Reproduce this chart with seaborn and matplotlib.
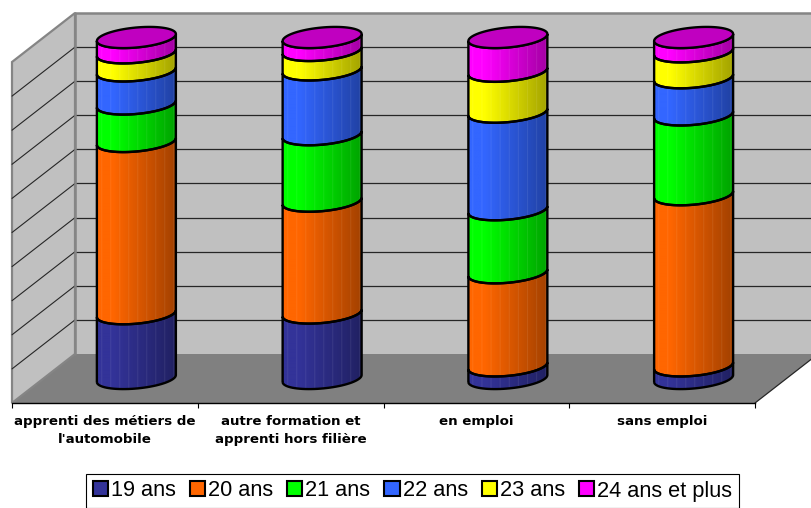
import numpy as np
import matplotlib
matplotlib.use("Agg")
import matplotlib.pyplot as plt
import seaborn as sns
from matplotlib.patches import Patch, PathPatch, Polygon
from matplotlib.path import Path
from matplotlib.colors import to_rgb

# Data (share in %)
categories = ["apprenti des métiers de\nl'automobile",
              "autre formation et\napprenti hors filière",
              "en emploi",
              "sans emploi"]
age_19 = [19.0, 19.2, 3.7, 3.7]
age_20 = [50.5, 32.8, 27.3, 50.2]
age_21 = [11.0, 19.5, 18.5, 23.4]
age_22 = [9.7, 19.0, 28.6, 10.9]
age_23 = [5.3, 5.7, 12.0, 7.6]
age_24 = [4.5, 3.8, 9.9, 4.2]

series_names = ["19 ans", "20 ans", "21 ans", "22 ans", "23 ans", "24 ans et plus"]
series_values = [age_19, age_20, age_21, age_22, age_23, age_24]
series_colors = ["#333399", "#FF6600", "#00FF00", "#3366FF", "#FFFF00", "#FF00FF"]

# Fake 3D set-up, all in pixels of the 811x508 picture
W, H = 811, 508
PX_X = 743 / 4    # pixels per category
PX_Y = 341 / 100  # pixels per percent
DEPTH_X = 63 / PX_X
DEPTH_Y = 49 / PX_Y
ELL_B = 10 / PX_Y
ELL_TILT = 3.5 / PX_Y

sns.set_theme(style="white")
plt.rcParams["font.family"] = ["DejaVu Sans"]

fig = plt.figure(figsize=(W / 100, H / 100), dpi=100)
ax = fig.add_axes([12 / W, (H - 403) / H, 743 / W, 341 / H])

# stacked bars: seaborn does the scales, the cylinders are built on top of them
bottoms = np.zeros(len(categories))
for name, values, color in zip(series_names, series_values, series_colors):
    sns.barplot(x=categories, y=values, bottom=bottoms, color=color, saturation=1,
                width=79 / PX_X, ax=ax)
    bottoms = bottoms + np.array(values)


def front_arc(cx, half_w, y0, reverse=False):
    t = np.linspace(0, np.pi, 40)
    xs = cx + half_w * np.cos(t)
    ys = y0 - ELL_B * np.sin(t) + ELL_TILT * np.cos(t)
    pts = np.column_stack([xs, ys])
    return pts if reverse else pts[::-1]


def shade_strip(color, n=158):
    # light on the left, dark on the right, with thin pale stripes
    base = np.array(to_rgb(color))
    t = np.linspace(0, 1, n)
    shade = np.where(t < 0.2, 1.0, 1 - 0.36 * (t - 0.2) / 0.8)
    strip = base[None, :] * shade[:, None]
    stripes = (np.arange(n) % 18 == 9)
    strip[stripes] = strip[stripes] * 0.85 + 0.15
    return strip[None, :, :]


off_x = DEPTH_X / 2
off_y = DEPTH_Y / 2
n_cat = len(categories)
for s, color in enumerate(series_colors):
    for c in range(n_cat):
        bar = ax.patches[s * n_cat + c]
        bar.set_visible(False)
        cx = bar.get_x() + bar.get_width() / 2 + off_x
        half_w = bar.get_width() / 2
        y_lo = bar.get_y() + off_y
        y_hi = y_lo + bar.get_height()
        pts = np.vstack([front_arc(cx, half_w, y_lo), front_arc(cx, half_w, y_hi, reverse=True)])
        outline = PathPatch(Path(np.vstack([pts, pts[0]])), facecolor="none", edgecolor="black",
                            lw=1.7, zorder=5.5, clip_on=False)
        ax.add_patch(outline)
        img = ax.imshow(shade_strip(color), aspect="auto", interpolation="bilinear",
                        extent=[cx - half_w, cx + half_w, y_lo - 8, y_hi + 8],
                        zorder=5)
        img.set_clip_box(fig.bbox)
        img.set_clip_path(PathPatch(Path(np.vstack([pts, pts[0]])), transform=ax.transData))

        # lid of the cylinder on the last series
        if s == len(series_colors) - 1:
            t = np.linspace(0, 2 * np.pi, 80)
            lid = np.column_stack([cx + half_w * np.cos(t),
                                   y_hi - ELL_B * np.sin(t) + ELL_TILT * np.cos(t)])
            ax.add_patch(Polygon(lid, closed=True, facecolor="#C000C0", edgecolor="black",
                                 lw=1.7, zorder=6, clip_on=False))

# walls and floor
x0, x1 = -0.5, n_cat - 0.5
wall_gray = "#C0C0C0"
edge_gray = "#858585"
back_wall = [(x0 + DEPTH_X, DEPTH_Y), (x1 + DEPTH_X, DEPTH_Y),
             (x1 + DEPTH_X, 100 + DEPTH_Y), (x0 + DEPTH_X, 100 + DEPTH_Y)]
side_wall = [(x0, 0), (x0 + DEPTH_X, DEPTH_Y), (x0 + DEPTH_X, 100 + DEPTH_Y), (x0, 100)]
floor = [(x0, 0), (x1, 0), (x1 + DEPTH_X, DEPTH_Y), (x0 + DEPTH_X, DEPTH_Y)]
ax.add_patch(Polygon(back_wall, facecolor=wall_gray, edgecolor="none", zorder=1, clip_on=False))
ax.add_patch(Polygon(side_wall, facecolor=wall_gray, edgecolor=edge_gray, lw=1.6, zorder=1.2,
                     clip_on=False))
ax.add_patch(Polygon(floor, facecolor="#808080", edgecolor="none", zorder=1.1, clip_on=False))

for pct in range(10, 100, 10):
    ax.plot([x0 + DEPTH_X, x1 + DEPTH_X], [pct + DEPTH_Y] * 2, color="#262626", lw=0.9,
            zorder=1.3, clip_on=False)
    ax.plot([x0, x0 + DEPTH_X], [pct, pct + DEPTH_Y], color="#262626", lw=0.8,
            zorder=1.3, clip_on=False)
ax.plot([x0 + DEPTH_X, x1 + DEPTH_X], [100 + DEPTH_Y] * 2, color=edge_gray, lw=1.8,
        zorder=1.4, clip_on=False)
ax.plot([x0 + DEPTH_X, x0 + DEPTH_X], [DEPTH_Y, 100 + DEPTH_Y], color=edge_gray, lw=1.8,
        zorder=1.4, clip_on=False)
ax.plot([x1, x1 + DEPTH_X], [0, DEPTH_Y], color="#262626", lw=0.9, zorder=1.4, clip_on=False)

# axes
ax.set_xlim(x0, x1)
ax.set_ylim(0, 100)
ax.patch.set_visible(False)
ax.yaxis.set_visible(False)
sns.despine(ax=ax, left=True)
ax.spines["bottom"].set_color("black")
ax.spines["bottom"].set_linewidth(1.0)
ax.spines["bottom"].set_zorder(3)

ax.set_xticks(np.arange(x0, x1 + 1), labels=[""] * (n_cat + 1))
ax.set_xticks(np.arange(n_cat), labels=categories, minor=True)
ax.tick_params(axis="x", which="major", bottom=True, length=3.6, width=0.8, color="black")
ax.tick_params(axis="x", which="minor", bottom=False, length=0, pad=8.6, labelsize=9.6, labelcolor="black")
for label in ax.get_xticklabels(minor=True):
    label.set_fontweight("bold")
    label.set_linespacing(1.48)

# legend
handles = [Patch(facecolor=col, edgecolor="black", lw=1.5) for col in series_colors]
fs = 15.7
leg = ax.legend(handles, series_names, ncol=6, loc="center",
                bbox_to_anchor=(412.5 / W, 1 - 491 / H), bbox_transform=fig.transFigure,
                prop={"family": "Liberation Sans", "size": fs},
                handlelength=0.69, handleheight=0.69, handletextpad=0.14,
                columnspacing=0.65, borderpad=0.3, borderaxespad=0, fancybox=False,
                framealpha=1, facecolor="white", edgecolor="black")
leg.get_frame().set_linewidth(0.8)
leg.set_zorder(10)
for text in leg.get_texts():
    text.set_color("black")

fig.savefig("out.png", dpi=100)
